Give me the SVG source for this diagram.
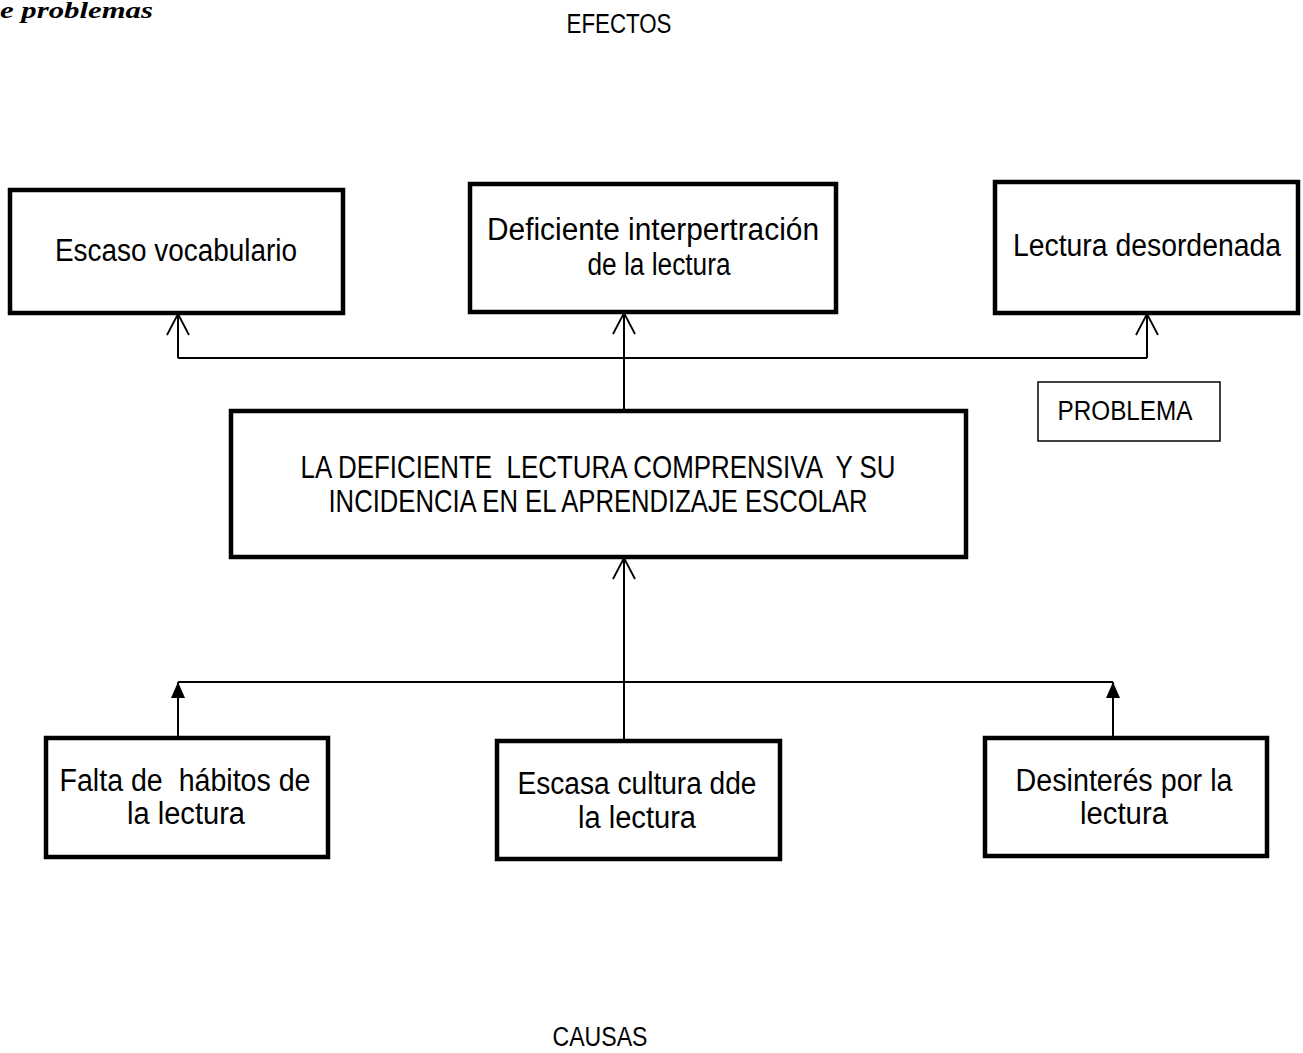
<svg xmlns="http://www.w3.org/2000/svg" width="1303" height="1053" viewBox="0 0 1303 1053">
<style>
.box{fill:#fff;stroke:#000;stroke-width:4.5}
.thin{fill:#fff;stroke:#000;stroke-width:1.5}
.t{font-family:"Liberation Sans",Arial,sans-serif;font-size:31px;fill:#000;text-anchor:middle}
.lbl{font-family:"Liberation Sans",Arial,sans-serif;font-size:27px;fill:#000;text-anchor:middle}
.con{fill:none;stroke:#000;stroke-width:2}
</style>
<defs>
<marker id="open" viewBox="0 0 24 24" refX="22" refY="12" markerWidth="24" markerHeight="24" markerUnits="userSpaceOnUse" orient="auto">
<path d="M1,1 L22,12 L1,23" fill="none" stroke="#000" stroke-width="1.8"/>
</marker>
<marker id="solid" viewBox="0 0 16 14" refX="16" refY="7" markerWidth="16" markerHeight="14" markerUnits="userSpaceOnUse" orient="auto">
<path d="M0,0 L16,7 L0,14 Z" fill="#000"/>
</marker>
</defs>
<text x="0" y="18" font-family="Liberation Serif,serif" font-size="23" font-weight="bold" font-style="italic" textLength="153" lengthAdjust="spacingAndGlyphs">e problemas</text>
<text class="lbl" x="619" y="33" textLength="105" lengthAdjust="spacingAndGlyphs">EFECTOS</text>
<text class="lbl" x="600" y="1046" textLength="95" lengthAdjust="spacingAndGlyphs">CAUSAS</text>
<g id="connectors">
<polyline class="con" points="178,358 1147,358"/>
<line class="con" x1="178" y1="358" x2="178" y2="314" marker-end="url(#open)"/>
<line class="con" x1="1147" y1="358" x2="1147" y2="314" marker-end="url(#open)"/>
<line class="con" x1="624" y1="411" x2="624" y2="313" marker-end="url(#open)"/>
<line class="con" x1="624" y1="741" x2="624" y2="558" marker-end="url(#open)"/>
<polyline class="con" points="178,682 1113,682"/>
<line class="con" x1="178" y1="738" x2="178" y2="682" marker-end="url(#solid)"/>
<line class="con" x1="1113" y1="738" x2="1113" y2="682" marker-end="url(#solid)"/>
</g>
<g id="n-escaso">
<rect class="box" x="10" y="190" width="333" height="123"/>
<text class="t" x="176" y="261" textLength="242" lengthAdjust="spacingAndGlyphs">Escaso vocabulario</text>
</g>
<g id="n-deficiente">
<rect class="box" x="470" y="184" width="366" height="128"/>
<text class="t" x="653" y="240" textLength="332" lengthAdjust="spacingAndGlyphs">Deficiente interpertración</text>
<text class="t" x="659" y="275" textLength="143" lengthAdjust="spacingAndGlyphs">de la lectura</text>
</g>
<g id="n-desordenada">
<rect class="box" x="995" y="182" width="303" height="131"/>
<text class="t" x="1147" y="256" textLength="268" lengthAdjust="spacingAndGlyphs">Lectura desordenada</text>
</g>
<g id="n-problema-label">
<rect class="thin" x="1038" y="382" width="182" height="59"/>
<text class="lbl" x="1125" y="420" textLength="135" lengthAdjust="spacingAndGlyphs">PROBLEMA</text>
</g>
<g id="n-problema">
<rect class="box" x="231" y="411" width="735" height="146"/>
<text class="t" x="598" y="478" textLength="595" lengthAdjust="spacingAndGlyphs" xml:space="preserve">LA DEFICIENTE  LECTURA COMPRENSIVA  Y SU</text>
<text class="t" x="598" y="512" textLength="539" lengthAdjust="spacingAndGlyphs">INCIDENCIA EN EL APRENDIZAJE ESCOLAR</text>
</g>
<g id="n-falta">
<rect class="box" x="46" y="738" width="282" height="119"/>
<text class="t" x="185" y="791" textLength="251" lengthAdjust="spacingAndGlyphs" xml:space="preserve">Falta de  hábitos de</text>
<text class="t" x="186" y="824" textLength="118" lengthAdjust="spacingAndGlyphs">la lectura</text>
</g>
<g id="n-cultura">
<rect class="box" x="497" y="741" width="283" height="118"/>
<text class="t" x="637" y="794" textLength="239" lengthAdjust="spacingAndGlyphs">Escasa cultura dde</text>
<text class="t" x="637" y="828" textLength="118" lengthAdjust="spacingAndGlyphs">la lectura</text>
</g>
<g id="n-desinteres">
<rect class="box" x="985" y="738" width="282" height="118"/>
<text class="t" x="1124" y="791" textLength="217" lengthAdjust="spacingAndGlyphs">Desinterés por la</text>
<text class="t" x="1124" y="824" textLength="88" lengthAdjust="spacingAndGlyphs">lectura</text>
</g>
</svg>
